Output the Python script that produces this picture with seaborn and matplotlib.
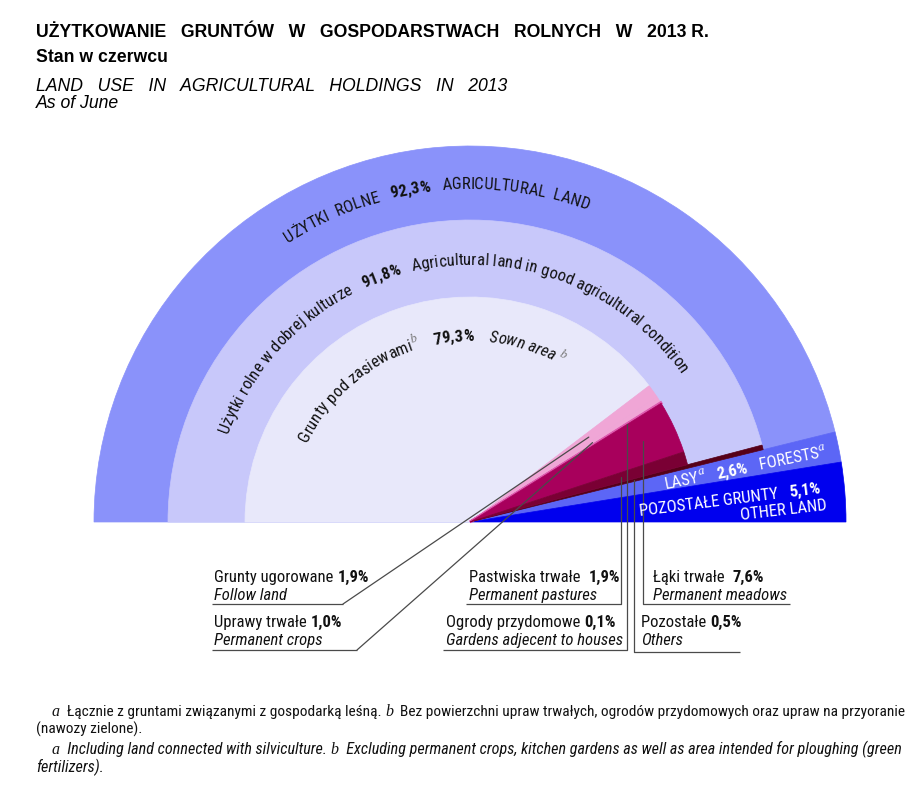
import numpy as np
import seaborn as sns
import matplotlib
matplotlib.use('Agg')
import matplotlib.pyplot as plt
from matplotlib import font_manager

# ----------------------------------------
# Data (share of total area of agricultural holdings, %)
outer_labels = ['Użytki rolne', 'Lasy', 'Pozostałe grunty']
outer_values = [92.3, 2.6, 5.1]
outer_colors = ['#8a92fa', '#5c66f6', '#0000ee']

middle_labels = ['Użytki rolne w dobrej kulturze', 'Pozostałe']
middle_values = [91.8, 0.5]
middle_colors = ['#c8c8fa', '#560018']

inner_labels = ['Grunty pod zasiewami', 'Grunty ugorowane', 'Uprawy trwałe',
                'Ogrody przydomowe', 'Łąki trwałe', 'Pastwiska trwałe']
inner_values = [79.3, 1.9, 1.0, 0.1, 7.6, 1.9]
inner_colors = ['#e8e8fa', '#f0a6d6', '#f0a6d6', '#de5cb0', '#a8005c', '#7a0034']
# ----------------------------------------

sns.set_theme(style='white')

avail = {f.name for f in font_manager.fontManager.ttflist}
NARROW = next((n for n in ['Liberation Sans Narrow', 'Roboto Condensed', 'Arial Narrow',
                           'Archivo Narrow'] if n in avail), 'Roboto')


def fp(size, weight='normal', style='normal', family=None):
    return font_manager.FontProperties(family=family or NARROW, size=size,
                                       weight=weight, style=style)


W, H = 921, 792
fig = plt.figure(figsize=(W / 100, H / 100), dpi=100)
ax = fig.add_axes([0, 0, 1, 1])
renderer = fig.canvas.get_renderer()

CX, CY = 470, H - 522
R_OUT, R_MID, R_IN = 376, 302, 225


def half_pie(values, colors, radius):
    # 100 % fills the upper half; the lower half stays empty
    vals = list(values) + [200 - sum(values)]
    cols = list(colors) + ['none']
    wedges, _ = ax.pie(vals, colors=cols, radius=radius, center=(CX, CY),
                       startangle=180, counterclock=False)
    for w, c in zip(wedges, cols):
        if c == 'none':
            w.set_visible(False)
        else:
            w.set_edgecolor(c)
            w.set_linewidth(0.5)
    return wedges


half_pie(outer_values, outer_colors, R_OUT)
half_pie(middle_values, middle_colors, R_MID)
inner_wedges = half_pie(inner_values, inner_colors, R_IN)
inner_wedges[3].set_linewidth(2.0)   # tiny slice, keep it visible

ax.set_xlim(0, W)
ax.set_ylim(0, H)
ax.set_aspect('auto')
ax.axis('off')


def mid_deg(values, i):
    cum = np.concatenate([[0], np.cumsum(values)])
    e = 180 - cum * 1.8
    return (e[i] + e[i + 1]) / 2


def text_width(s, prop):
    if not s:
        return 0.0
    w0, _, _ = renderer.get_text_width_height_descent('l', prop, ismath=False)
    w1, _, _ = renderer.get_text_width_height_descent(s + 'l', prop, ismath=False)
    return w1 - w0


def arc_text(pieces, r, center_deg):
    """pieces: (text, fontprops, color, rise) placed clockwise along an arc."""
    widths = [text_width(p[0], p[1]) for p in pieces]
    theta0 = np.radians(center_deg) + sum(widths) / (2 * r)
    off = 0.0
    for (t, prop, col, rise), w in zip(pieces, widths):
        for i, ch in enumerate(t):
            a = text_width(t[:i], prop)
            b = text_width(t[:i + 1], prop)
            th = theta0 - (off + (a + b) / 2) / r
            rr = r + rise
            if ch.strip():
                ax.text(CX + rr * np.cos(th), CY + rr * np.sin(th), ch,
                        fontproperties=prop, color=col,
                        rotation=np.degrees(th) - 90, rotation_mode='anchor',
                        ha='center', va='baseline')
        off += w


def run_text(x, y, pieces, rotation=0, align='left'):
    """mixed-style text on one baseline; x, y in pixels from top-left."""
    widths = [text_width(p[0], p[1]) for p in pieces]
    total = sum(widths)
    th = np.radians(rotation)
    shift = {'left': 0, 'center': total / 2, 'right': total}[align]
    x0 = x - shift * np.cos(th)
    y0 = (H - y) - shift * np.sin(th)
    off = 0.0
    for (t, prop, col, rise), w in zip(pieces, widths):
        ax.text(x0 + off * np.cos(th) - rise * np.sin(th),
                y0 + off * np.sin(th) + rise * np.cos(th), t,
                fontproperties=prop, color=col, rotation=rotation,
                rotation_mode='anchor', ha='left', va='baseline')
        off += w


N = fp(12)
NB = fp(12, 'bold')
NI = fp(12, style='italic')
SUP = fp(9, style='italic', family='Liberation Serif')
K = '#111111'
G = '#777777'

# titles
TB = fp(12.7, 'bold', family='Liberation Sans')
TI = fp(12.7, style='italic', family='Liberation Sans')
fig.text(36 / W, 1 - 37 / H, 'UŻYTKOWANIE   GRUNTÓW   W   GOSPODARSTWACH   ROLNYCH   W   2013 R.',
         fontproperties=TB, color='black', va='baseline')
fig.text(36 / W, 1 - 62 / H, 'Stan w czerwcu', fontproperties=TB, color='black', va='baseline')
fig.text(36 / W, 1 - 91 / H, 'LAND   USE   IN   AGRICULTURAL   HOLDINGS   IN   2013',
         fontproperties=TI, color='black', va='baseline')
fig.text(36 / W, 1 - 108 / H, 'As of June', fontproperties=TI, color='black', va='baseline')

# curved ring labels
arc_text([('UŻYTKI  ROLNE   ', N, K, 0), ('92,3%', NB, K, 0),
          ('   AGRICULTURAL  LAND', N, K, 0)], 333, 96.2)
arc_text([('Użytki rolne w dobrej kulturze   ', N, K, 0), ('91,8%', NB, K, 0),
          ('   Agricultural land in good agricultural condition', N, K, 0)], 257, 97.5)
arc_text([('Grunty pod zasiewami', N, K, 0), ('b', SUP, G, 7), ('    ', N, K, 0),
          ('79,3%', NB, K, 0), ('    Sown area ', NI, K, 0), ('b', SUP, G, 7)], 181, 107)

# radial labels for forests / other land
WH = 'white'
run_text(746, 473, [('LASY', N, WH, 0), ('a', SUP, WH, 7), ('   ', N, WH, 0), ('2,6%', NB, WH, 0),
                    ('   FORESTS', N, WH, 0), ('a', SUP, WH, 7)], rotation=11.4, align='center')
run_text(640, 516, [('POZOSTAŁE GRUNTY   ', N, WH, 0), ('5,1%', NB, WH, 0)], rotation=7.2)
run_text(827, 510, [('OTHER LAND', N, WH, 0)], rotation=6.7, align='right')

# labels under the chart with leader lines
LC = '#4a4a4a'


def hline(x0, x1, y):
    ax.plot([x0, x1], [H - y, H - y], color=LC, lw=0.9, solid_capstyle='butt')


def pt(deg, r):
    return CX + r * np.cos(np.radians(deg)), CY + r * np.sin(np.radians(deg))


def vleader(x, y_bottom, deg):
    y_tip = CY + (x - CX) * np.tan(np.radians(deg))
    ax.plot([x, x], [H - y_bottom, y_tip], color=LC, lw=0.9)


run_text(214, 582, [('Grunty ugorowane ', N, K, 0), ('1,9%', NB, K, 0)])
run_text(214, 600, [('Follow land', NI, K, 0)])
hline(212, 343, 604)
tx, ty = pt(mid_deg(inner_values, 1), 146)
ax.plot([343, tx], [H - 604, ty], color=LC, lw=0.9)

run_text(214, 627, [('Uprawy trwałe ', N, K, 0), ('1,0%', NB, K, 0)])
run_text(214, 645, [('Permanent crops', NI, K, 0)])
hline(212, 357, 650)
tx, ty = pt(mid_deg(inner_values, 2), 146)
ax.plot([357, tx], [H - 650, ty], color=LC, lw=0.9)

run_text(469, 582, [('Pastwiska trwałe  ', N, K, 0), ('1,9%', NB, K, 0)])
run_text(469, 600, [('Permanent pastures', NI, K, 0)])
hline(466, 621, 604)
vleader(621, 604, mid_deg(inner_values, 5))

run_text(446, 627, [('Ogrody przydomowe ', N, K, 0), ('0,1%', NB, K, 0)])
run_text(446, 645, [('Gardens adjecent to houses', NI, K, 0)])
hline(443, 627, 650)
vleader(627, 650, mid_deg(inner_values, 3))

run_text(653, 582, [('Łąki trwałe  ', N, K, 0), ('7,6%', NB, K, 0)])
run_text(653, 600, [('Permanent meadows', NI, K, 0)])
hline(643, 790, 604)
vleader(643, 604, mid_deg(inner_values, 4))

run_text(641, 627, [('Pozostałe ', N, K, 0), ('0,5%', NB, K, 0)])
run_text(641, 645, [('Others', NI, K, 0)])
hline(634, 740, 652)
vleader(634, 652, mid_deg(middle_values, 1))

# footnotes
F = fp(11.1)
FI = fp(11.6, style='italic')
FM = fp(11.5, style='italic', family='Liberation Serif')
run_text(52, 716, [('a', FM, K, 0), ('  Łącznie z gruntami związanymi z gospodarką leśną. ', F, K, 0),
                   ('b', FM, K, 0),
                   ('  Bez powierzchni upraw trwałych, ogrodów przydomowych oraz upraw na przyoranie', F, K, 0)])
run_text(36, 734, [('(nawozy zielone).', F, K, 0)])
run_text(52, 754, [('a', FM, K, 0), ('  Including land connected with silviculture. ', FI, K, 0),
                   ('b', FM, K, 0),
                   ('  Excluding permanent crops, kitchen gardens as well as area intended for ploughing (green',
                    FI, K, 0)])
run_text(36, 772, [('fertilizers).', FI, K, 0)])

fig.savefig('out.png', dpi=100)
